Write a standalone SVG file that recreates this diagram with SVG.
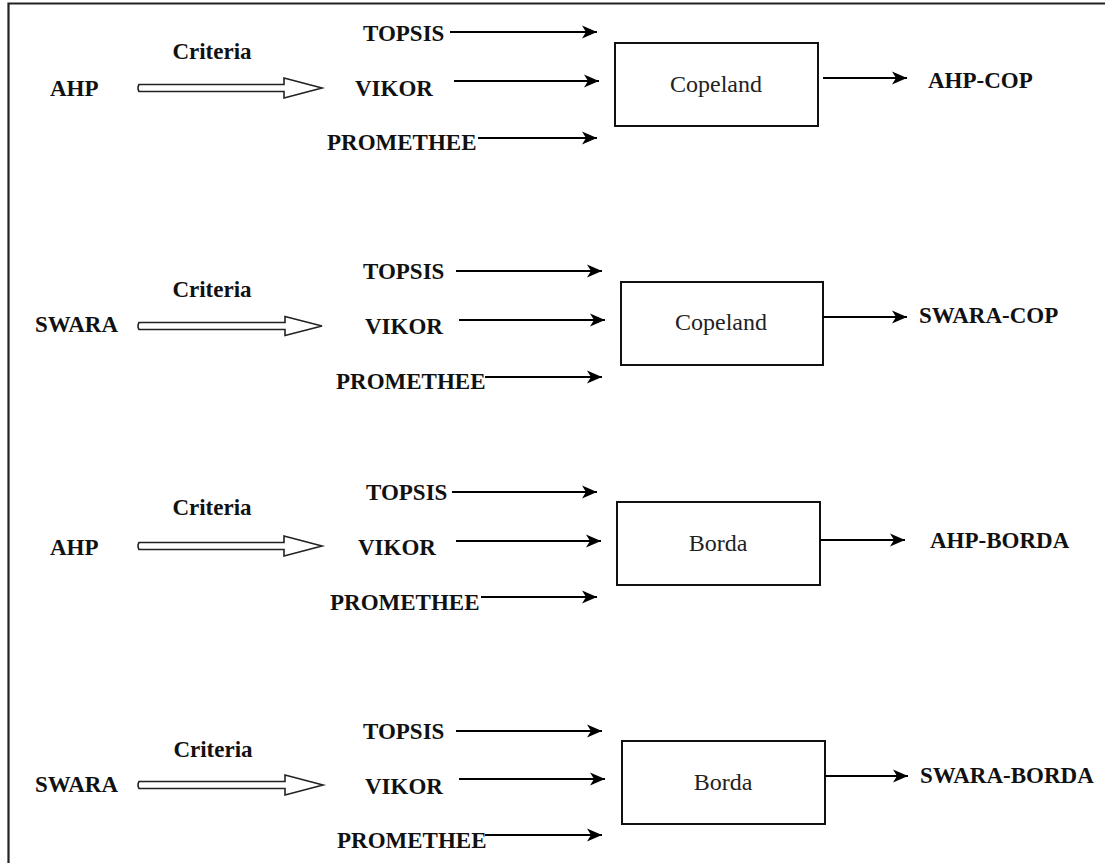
<svg xmlns="http://www.w3.org/2000/svg" width="1105" height="863" viewBox="0 0 1105 863">
<style>
.b{font-family:"Liberation Serif","Times New Roman",serif;font-weight:bold;font-size:23px;fill:#111}
.r{font-family:"Liberation Serif","Times New Roman",serif;font-size:24px;fill:#222}
.c{text-anchor:middle}
.box{fill:#fff;stroke:#111;stroke-width:2}
.ln{stroke:#000;stroke-width:2;fill:none;marker-end:url(#ah)}
.dbl{fill:#fff;stroke:#222;stroke-width:1.6;stroke-linejoin:miter}
</style>
<defs>
<marker id="ah" markerUnits="userSpaceOnUse" markerWidth="17" markerHeight="15" refX="15" refY="7" orient="auto">
<path d="M0,0.5 L15,7 L0,13.5 L4,7 Z" fill="#000"/>
</marker>
</defs>
<rect width="1105" height="863" fill="#fff"/>
<path d="M8.5,863 L8.5,3.5 L1105,3.5" fill="none" stroke="#222" stroke-width="2.2"/>

<!-- Panel 1 -->
<g id="p1-src"><text class="b" x="50" y="96">AHP</text></g>
<g id="p1-crit"><text class="b c" x="212" y="59">Criteria</text></g>
<g id="p1-topsis"><text class="b" x="363" y="41">TOPSIS</text></g>
<g id="p1-vikor"><text class="b" x="355" y="96">VIKOR</text></g>
<g id="p1-prom"><text class="b" x="327" y="150">PROMETHEE</text></g>
<g id="p1-agg"><rect class="box" x="615" y="43" width="203" height="83"/><text class="r c" x="716" y="92">Copeland</text></g>
<g id="p1-out"><text class="b" x="928" y="88">AHP-COP</text></g>

<!-- Panel 2 -->
<g id="p2-src"><text class="b" x="35" y="332">SWARA</text></g>
<g id="p2-crit"><text class="b c" x="212" y="297">Criteria</text></g>
<g id="p2-topsis"><text class="b" x="363" y="279">TOPSIS</text></g>
<g id="p2-vikor"><text class="b" x="365" y="334">VIKOR</text></g>
<g id="p2-prom"><text class="b" x="336" y="389">PROMETHEE</text></g>
<g id="p2-agg"><rect class="box" x="621" y="282" width="202" height="83"/><text class="r c" x="721" y="330">Copeland</text></g>
<g id="p2-out"><text class="b" x="919" y="323">SWARA-COP</text></g>

<!-- Panel 3 -->
<g id="p3-src"><text class="b" x="50" y="555">AHP</text></g>
<g id="p3-crit"><text class="b c" x="212" y="515">Criteria</text></g>
<g id="p3-topsis"><text class="b" x="366" y="500">TOPSIS</text></g>
<g id="p3-vikor"><text class="b" x="358" y="555">VIKOR</text></g>
<g id="p3-prom"><text class="b" x="330" y="610">PROMETHEE</text></g>
<g id="p3-agg"><rect class="box" x="617" y="502" width="203" height="83"/><text class="r c" x="718" y="551">Borda</text></g>
<g id="p3-out"><text class="b" x="930" y="548">AHP-BORDA</text></g>

<!-- Panel 4 -->
<g id="p4-src"><text class="b" x="35" y="792">SWARA</text></g>
<g id="p4-crit"><text class="b c" x="213" y="757">Criteria</text></g>
<g id="p4-topsis"><text class="b" x="363" y="739">TOPSIS</text></g>
<g id="p4-vikor"><text class="b" x="365" y="794">VIKOR</text></g>
<g id="p4-prom"><text class="b" x="337" y="848">PROMETHEE</text></g>
<g id="p4-agg"><rect class="box" x="622" y="741" width="203" height="83"/><text class="r c" x="723" y="790">Borda</text></g>
<g id="p4-out"><text class="b" x="920" y="783">SWARA-BORDA</text></g>

<g id="connectors">
<!-- double (criteria) arrows -->
<path class="dbl" d="M139,84.5 L284,84.5 L284,78 L322,88 L284,98 L284,91.5 L139,91.5 Q137,88 139,84.5 Z"/>
<path class="dbl" d="M139,322.5 L285,322.5 L285,316.5 L322,326 L285,335.5 L285,329.5 L139,329.5 Q137,326 139,322.5 Z"/>
<path class="dbl" d="M139,542.5 L284,542.5 L284,536 L322,546 L284,556 L284,549.5 L139,549.5 Q137,546 139,542.5 Z"/>
<path class="dbl" d="M139,781.5 L285,781.5 L285,775 L323,785 L285,795 L285,788.5 L139,788.5 Q137,785 139,781.5 Z"/>
<!-- panel 1 -->
<line class="ln" x1="450" y1="32" x2="597" y2="32"/>
<line class="ln" x1="454" y1="81" x2="599" y2="81"/>
<line class="ln" x1="478" y1="138" x2="597" y2="138"/>
<line class="ln" x1="823" y1="78" x2="907" y2="78"/>
<!-- panel 2 -->
<line class="ln" x1="456" y1="271" x2="602" y2="271"/>
<line class="ln" x1="459" y1="320" x2="605" y2="320"/>
<line class="ln" x1="485" y1="377" x2="602" y2="377"/>
<line class="ln" x1="823" y1="317" x2="907" y2="317"/>
<!-- panel 3 -->
<line class="ln" x1="452" y1="492" x2="597" y2="492"/>
<line class="ln" x1="456" y1="541" x2="601" y2="541"/>
<line class="ln" x1="481" y1="597" x2="597" y2="597"/>
<line class="ln" x1="820" y1="540" x2="905" y2="540"/>
<!-- panel 4 -->
<line class="ln" x1="456" y1="731" x2="602" y2="731"/>
<line class="ln" x1="459" y1="779" x2="605" y2="779"/>
<line class="ln" x1="485" y1="835" x2="602" y2="835"/>
<line class="ln" x1="825" y1="776" x2="908" y2="776"/>
</g>
</svg>
